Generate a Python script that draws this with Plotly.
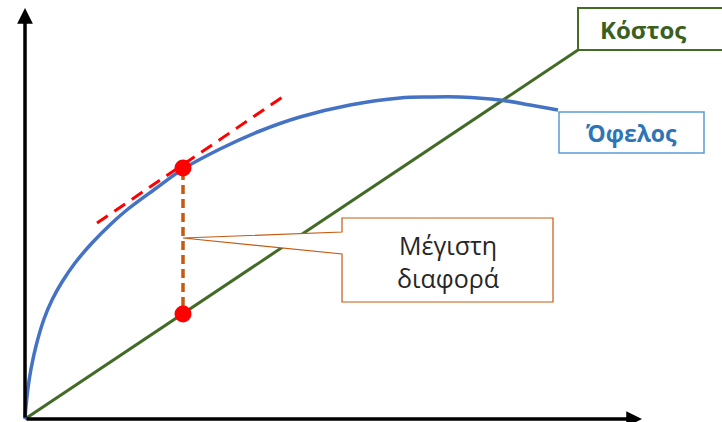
import plotly.graph_objects as go

# ─────────────────────────────────────────────────────────────
# Data (chart units: origin at the axes corner, y pointing up)
# ─────────────────────────────────────────────────────────────
benefit_x = [0, 1, 3, 6, 11, 19, 27, 37, 50, 67, 87, 103, 130, 158, 195, 235, 275, 325, 375, 405, 435, 475, 505, 533]
benefit_y = [0, 13, 31, 50, 73, 100, 119, 137, 156, 176, 196, 210, 230, 250, 270, 288, 302, 314, 321, 322, 322, 319, 314, 309]

cost_x = [0, 553]
cost_y = [0, 369]

tangent_x = [72, 262]
tangent_y = [196, 325]

opt_x = [158, 158]          # point on benefit curve, point on cost line
opt_y = [251, 105]
gap_y = [248, 110]          # dashed vertical segment between them

axis_end_x = 617
axis_end_y = 411

callout_tip = (158, 181)
callout_box = (317, 528, 117, 201)      # x0, x1, y0, y1
callout_join = (165, 187)
callout_lines = ["Μέγιστη", "διαφορά"]

cost_label = "Κόστος"
cost_box = (553, 710, 369, 411)
benefit_label = "Όφελος"
benefit_box = (534, 679, 266, 307)

BLUE = "#4472C4"
GREEN = "#426B26"
RED = "#FF0000"
ORANGE = "#C55A11"
FONT = "Open Sans, Noto Sans, sans-serif"

fig = go.Figure()

fig.add_trace(go.Scatter(x=cost_x, y=cost_y, mode="lines",
                         line=dict(color=GREEN, width=3), hoverinfo="skip"))
fig.add_trace(go.Scatter(x=benefit_x, y=benefit_y, mode="lines",
                         line=dict(color=BLUE, width=3.5, shape="spline", smoothing=1),
                         hoverinfo="skip"))
fig.add_trace(go.Scatter(x=tangent_x, y=tangent_y, mode="lines",
                         line=dict(color=RED, width=3, dash="13px,8px"), hoverinfo="skip"))
fig.add_trace(go.Scatter(x=[opt_x[0], opt_x[1]], y=gap_y, mode="lines",
                         line=dict(color=ORANGE, width=3.5, dash="9px,5px"), hoverinfo="skip"))

# callout box with wedge pointing at the gap
bx0, bx1, by0, by1 = callout_box
j0, j1 = callout_join
tx, ty = callout_tip
path = (f"M {bx0},{j1} L {bx0},{by1} L {bx1},{by1} L {bx1},{by0} L {bx0},{by0} "
        f"L {bx0},{j0} L {tx},{ty} Z")
fig.add_shape(type="path", path=path, xref="x", yref="y",
              line=dict(color=ORANGE, width=1.2), fillcolor="white", layer="above")

fig.add_trace(go.Scatter(x=opt_x, y=opt_y, mode="markers",
                         marker=dict(color=RED, size=17, line=dict(width=0)),
                         hoverinfo="skip"))

for i, txt in enumerate(callout_lines):
    fig.add_annotation(x=(bx0 + bx1) / 2, y=by1 - 27 - i * 33, text=txt, showarrow=False,
                       font=dict(family=FONT, size=25, color="#262626"))

# label boxes
fig.add_shape(type="rect", x0=cost_box[0], x1=cost_box[1], y0=cost_box[2], y1=cost_box[3],
              line=dict(color=GREEN, width=2), fillcolor="white")
fig.add_annotation(x=618, y=(cost_box[2] + cost_box[3]) / 2, text=f"<b>{cost_label}</b>",
                   showarrow=False, font=dict(family=FONT, size=24, color="#3A5F1E"))

fig.add_shape(type="rect", x0=benefit_box[0], x1=benefit_box[1], y0=benefit_box[2], y1=benefit_box[3],
              line=dict(color="#5B9BD5", width=1.5), fillcolor="white")
fig.add_annotation(x=(benefit_box[0] + benefit_box[1]) / 2, y=(benefit_box[2] + benefit_box[3]) / 2,
                   text=f"<b>{benefit_label}</b>", showarrow=False,
                   font=dict(family=FONT, size=23, color="#2E75B6"))

# axes with arrow heads
for ex, ey in [(0, axis_end_y), (axis_end_x, 0)]:
    fig.add_annotation(x=ex, y=ey, ax=0, ay=0, xref="x", yref="y", axref="x", ayref="y",
                       text="", showarrow=True, arrowhead=2, arrowsize=0.9,
                       arrowwidth=3.5, arrowcolor="black")

fig.update_xaxes(range=[-25, 697], visible=False)
fig.update_yaxes(range=[-3, 419], visible=False)
fig.update_layout(width=722, height=422, margin=dict(l=0, r=0, t=0, b=0),
                  plot_bgcolor="white", paper_bgcolor="white", showlegend=False)

fig.write_html("out.html", config={"displayModeBar": False},
               post_script="document.body.style.margin='0';document.body.style.overflow='hidden';")
